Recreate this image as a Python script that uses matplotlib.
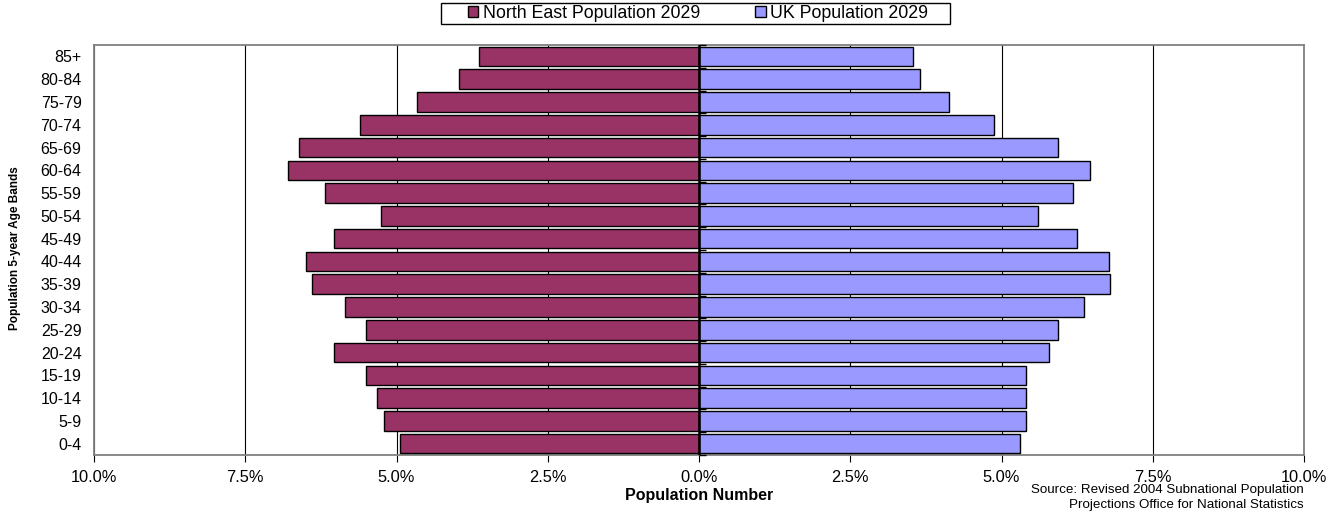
import numpy as np
import matplotlib
matplotlib.use("Agg")
import matplotlib.pyplot as plt
from matplotlib.patches import Rectangle
from matplotlib.ticker import FuncFormatter

plt.rcParams["font.family"] = ["Liberation Sans", "DejaVu Sans"]

# age bands, bottom to top
age_bands = ["0-4", "5-9", "10-14", "15-19", "20-24", "25-29", "30-34", "35-39",
             "40-44", "45-49", "50-54", "55-59", "60-64", "65-69", "70-74",
             "75-79", "80-84", "85+"]
# percent of population
north_east = [4.95, 5.20, 5.33, 5.50, 6.04, 5.51, 5.86, 6.39, 6.49, 6.04,
              5.26, 6.18, 6.80, 6.61, 5.61, 4.67, 3.96, 3.64]
uk = [5.31, 5.41, 5.41, 5.40, 5.79, 5.93, 6.36, 6.79, 6.77, 6.24,
      5.60, 6.18, 6.47, 5.93, 4.88, 4.14, 3.66, 3.53]
x_ticks = [-10, -7.5, -5, -2.5, 0, 2.5, 5, 7.5, 10]

fig = plt.figure(figsize=(13.38, 5.12), dpi=100)
ax = fig.add_axes([0.0703, 0.1113, 0.9043, 0.8007])

y = np.arange(len(age_bands))
ax.barh(y, -np.array(north_east), height=0.86, color="#993366",
        edgecolor="black", linewidth=1, label="North East Population 2029", zorder=3)
ax.barh(y, uk, height=0.86, color="#9999FF",
        edgecolor="black", linewidth=1, label="UK Population 2029", zorder=3)

ax.set_xlim(-10, 10)
ax.set_ylim(-0.5, len(age_bands) - 0.5)
ax.set_xticks(x_ticks)
ax.xaxis.set_major_formatter(FuncFormatter(lambda v, p: f"{abs(v):.1f}%"))
ax.set_yticks(y)
ax.set_yticklabels(age_bands)
ax.tick_params(axis="y", length=0, pad=9, labelsize=11.5)
ax.tick_params(axis="x", length=5, direction="out", pad=6, labelsize=11.8)
ax.xaxis.grid(True, color="black", linewidth=0.8, zorder=0)
ax.axvline(0, color="black", linewidth=1.8, zorder=4)

for s in ax.spines.values():
    s.set_color("#808080")
    s.set_linewidth(1.3)

# category tick marks on the zero axis
ax2 = ax.twinx()
ax2.set_ylim(ax.get_ylim())
ax2.set_yticks(np.arange(len(age_bands) + 1) - 0.5)
ax2.set_yticklabels([])
ax2.spines["right"].set_position(("data", 0))
for s in ["left", "right", "top", "bottom"]:
    ax2.spines[s].set_visible(False)
ax2.tick_params(axis="y", direction="out", length=5, width=1, color="black")
ax2.yaxis.set_ticks_position("right")

ax.set_xlabel("Population Number", fontsize=11.5, fontweight="bold", labelpad=2)
fig.text(0.011, 0.516, "Population 5-year Age Bands", rotation=90, ha="center",
         va="center", fontsize=8.5, fontweight="bold")
fig.text(0.9746, 0.002, "Source: Revised 2004 Subnational Population\n"
         "Projections Office for National Statistics", ha="right", va="bottom",
         fontsize=9.6, linespacing=1.3)

# legend box drawn by hand so the side padding matches
fig.patches.append(Rectangle((0.3296, 0.9531), 0.3804, 0.041, transform=fig.transFigure,
                             facecolor="white", edgecolor="black", linewidth=1))
leg = fig.legend(loc="center", bbox_to_anchor=(0.5217, 0.9736), ncol=2,
                 frameon=False, fontsize=12.8, handlelength=0.6,
                 handleheight=0.6, handletextpad=0.25, columnspacing=3.1,
                 borderpad=0, borderaxespad=0)

fig.savefig("out.png", dpi=100)
